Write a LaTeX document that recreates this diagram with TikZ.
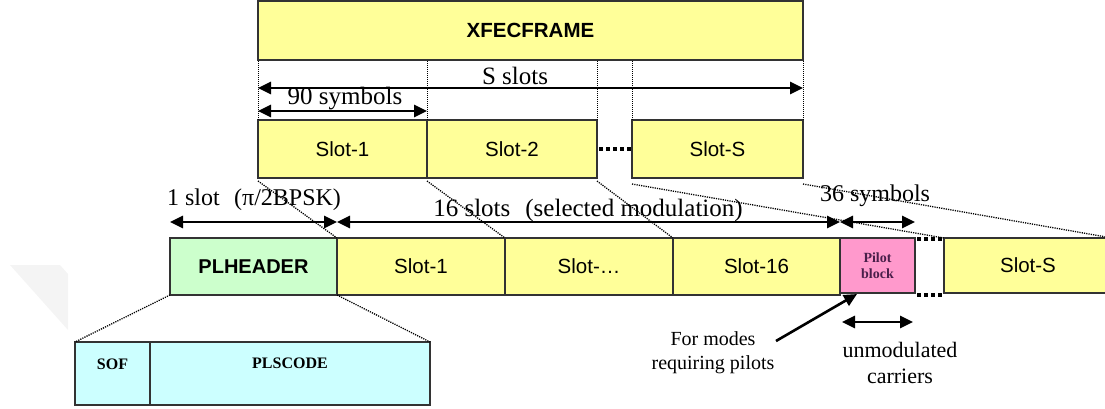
\documentclass[tikz,border=0pt]{standalone}
\usepackage{fontspec}
\setmainfont{Liberation Serif}
\setsansfont{Liberation Sans}
\usetikzlibrary{arrows.meta}
\definecolor{slotyellow}{HTML}{FFFF99}
\definecolor{hdrgreen}{HTML}{CCFFCC}
\definecolor{pilotpink}{HTML}{FF99CC}
\definecolor{plscyan}{HTML}{CCFFFF}
\definecolor{pilotink}{HTML}{4A1F4A}
\begin{document}
\begin{tikzpicture}[x=1pt,y=-1pt,
  frame/.style={draw=black!80, line width=1.3pt, inner sep=0pt, outer sep=0pt,
    anchor=north west, font=\sffamily\fontsize{20.5}{24}\selectfont},
  slotbox/.style={frame, fill=slotyellow, minimum height=58pt},
  proj/.style={line width=1.3pt, dash pattern=on 1.2pt off 1.1pt},
  guide/.style={line width=1pt, dash pattern=on 1pt off 1pt},
  span/.style={{Triangle[length=13pt,width=12pt]}-{Triangle[length=13pt,width=12pt]}, line width=2.6pt},
  dotrun/.style={line width=4pt, dash pattern=on 4pt off 3pt},
  note/.style={inner sep=0pt, font=\fontsize{25}{28}\selectfont},
  small/.style={inner sep=0pt, font=\fontsize{21}{25}\selectfont, align=center}]
\useasboundingbox (0,0) rectangle (1105,408);
\clip (0,0) rectangle (1105,408);

% faint mark at the left margin
\fill[gray!9] (10,265) -- (60,265) -- (68,274) -- (68,330) -- cycle;

% ---- XFECFRAME and its slots
\node[frame, fill=slotyellow, minimum width=545pt, minimum height=59pt,
  font=\sffamily\bfseries\fontsize{20.5}{24}\selectfont] (xfec) at (258,1) {XFECFRAME};
\node[slotbox, minimum width=169pt] (s1) at (258,120) {Slot-1};
\node[slotbox, minimum width=170pt] (s2) at (427,120) {Slot-2};
\node[slotbox, minimum width=171pt] (sS) at (632,120) {Slot-S};
\draw[dotrun] ([xshift=2pt]s2.east) -- (sS.west);

% slot boundaries dropped from the frame
\draw[guide] (s1.north west) -- (s1.north west |- xfec.south);
\draw[guide] (s2.north west) -- (s2.north west |- xfec.south);
\draw[guide] (s2.north east) -- (s2.north east |- xfec.south);
\draw[guide] (sS.north west) -- (sS.north west |- xfec.south);
\draw[guide] (sS.north east) -- (sS.north east |- xfec.south);

% spans in the frame
\coordinate (ssL) at (258,88);
\coordinate (ssR) at (803,88);
\draw[span] (ssL) -- (ssR);
\node[note] (sslots) at (515,76) {S slots};
\coordinate (nsL) at (258,111);
\coordinate (nsR) at (427,111);
\draw[span] (nsL) -- (nsR);
\node[note] (ninety) at (345,99) {90 symbols};

% ---- PL frame
\node[frame, fill=hdrgreen, minimum width=167pt, minimum height=57pt,
  font=\sffamily\bfseries\fontsize{20}{24}\selectfont] (plh) at (170,238) {PLHEADER};
\node[slotbox, minimum width=168pt, minimum height=57pt] (l1) at (337,238) {Slot-1};
\node[slotbox, minimum width=168pt, minimum height=57pt] (ld) at (505,238) {Slot-…};
\node[slotbox, minimum width=167pt, minimum height=57pt] (l16) at (673,238) {Slot-16};
\node[frame, fill=pilotpink, minimum width=75pt, minimum height=55pt, align=center,
  text=pilotink, font=\bfseries\fontsize{14}{16}\selectfont] (pilot) at (840,238) {Pilot\\block};
\node[slotbox, minimum width=168pt, minimum height=55pt] (lS) at (944,238) {Slot-S};
\draw[dotrun] ([xshift=2pt,yshift=-1pt]pilot.north east) -- ([yshift=-1pt]lS.north west);
\draw[dotrun] ([xshift=2pt,yshift=-2pt]pilot.south east) -- ([yshift=-2pt]lS.south west);

% mapping of XFECFRAME slots onto the PL frame
\draw[proj] ([yshift=-3pt]s1.south west) -- (plh.north east);
\draw[proj] ([yshift=-3pt]s2.south west) -- (l1.north east);
\draw[proj] ([yshift=-3pt]s2.south east) -- (ld.north east);
\draw[proj] ([yshift=-6pt]sS.south west) -- (lS.north west);
\draw[proj] ([yshift=-6pt]sS.south east) -- (lS.north east);

% spans above the PL frame
\coordinate (a1) at (170,222);
\coordinate (a2) at (337,222);
\coordinate (a3) at (840,222);
\coordinate (a4) at (915,222);
\draw[span] (a1) -- (a2);
\draw[span] (a2) -- (a3);
\draw[span] (a3) -- (a4);
\node[note, font=\fontsize{24}{28}\selectfont] (oneslot) at (254,200) {1 slot\hspace{0.6em}(π/2BPSK)};
\node[note] (sixteen) at (588,210) {16 slots\hspace{0.6em}(selected modulation)};
\node[note, font=\fontsize{24}{28}\selectfont] (thirtysix) at (875,196) {36 symbols};

% PLHEADER breakdown
\node[frame, fill=plscyan, minimum width=75pt, minimum height=63pt] (sof) at (75,342) {};
\node[frame, fill=plscyan, minimum width=280pt, minimum height=63pt] (plsc) at (150,342) {};
\node[inner sep=0pt, font=\bfseries\fontsize{16}{18}\selectfont] (softxt) at ([yshift=-22pt]sof.north) {SOF};
\node[inner sep=0pt, font=\bfseries\fontsize{16}{18}\selectfont] (plsctxt) at ([yshift=-21pt]plsc.north) {PLSCODE};
\draw[proj] (plh.south west) -- (sof.north west);
\draw[proj] (plh.south east) -- (plsc.north east);

% pilot annotations
\node[small, font=\fontsize{20}{24}\selectfont] (modes) at (713,353) {For modes\\requiring pilots};
\coordinate (modetail) at (776,341);
\draw[line width=2.6pt, -{Triangle[length=13pt,width=12pt]}] (modetail) -- ([xshift=17pt,yshift=-1pt]pilot.south west);
\coordinate (uL) at (842,322);
\coordinate (uR) at (913,322);
\draw[span] (uL) -- (uR);
\node[small, font=\fontsize{22}{26}\selectfont] (unmod) at (900,363) {unmodulated\\carriers};
\end{tikzpicture}
\end{document}
